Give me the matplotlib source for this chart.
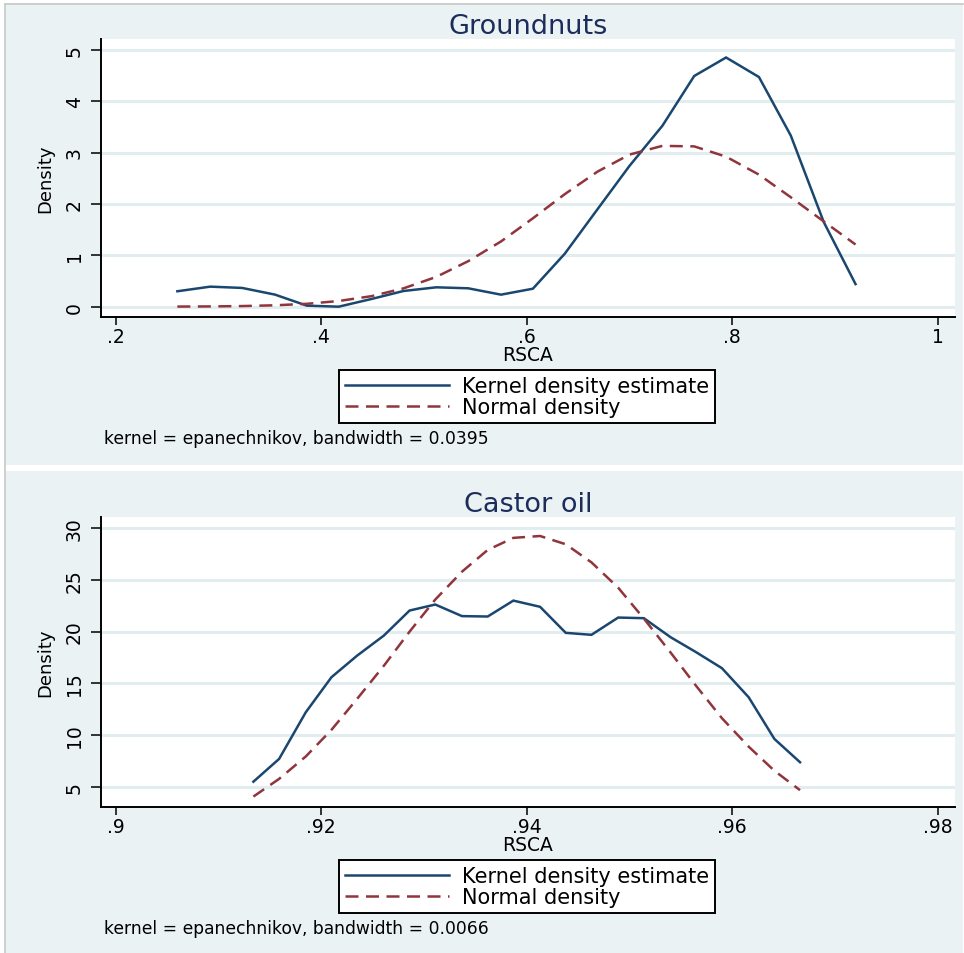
import matplotlib
matplotlib.use("Agg")
import matplotlib.pyplot as plt
from matplotlib.lines import Line2D
from matplotlib.patches import Rectangle

# kernel density vs normal density of RSCA, two crops
gn_x = [0.260, 0.292, 0.323, 0.355, 0.386, 0.417, 0.449, 0.480, 0.512, 0.543, 0.575,
        0.606, 0.637, 0.669, 0.700, 0.732, 0.763, 0.794, 0.826, 0.857, 0.889, 0.920]
gn_kde = [0.30, 0.39, 0.365, 0.235, 0.02, 0.0, 0.15, 0.305, 0.377, 0.358, 0.234,
          0.35, 1.03, 1.90, 2.74, 3.52, 4.49, 4.85, 4.47, 3.33, 1.65, 0.44]
gn_norm = [0.002, 0.005, 0.012, 0.027, 0.056, 0.11, 0.205, 0.356, 0.58, 0.885, 1.27,
           1.72, 2.19, 2.63, 2.96, 3.13, 3.12, 2.92, 2.57, 2.13, 1.66, 1.21]
gn_xticks = [0.2, 0.4, 0.6, 0.8, 1.0]
gn_xlabels = [".2", ".4", ".6", ".8", "1"]
gn_yticks = [0, 1, 2, 3, 4, 5]

co_x = [0.9134, 0.9159, 0.9185, 0.9210, 0.9235, 0.9261, 0.9286, 0.9311, 0.9337, 0.9362, 0.9387,
        0.9413, 0.9438, 0.9463, 0.9489, 0.9514, 0.9540, 0.9565, 0.9590, 0.9616, 0.9641, 0.9666]
co_kde = [5.48, 7.68, 12.2, 15.59, 17.68, 19.62, 22.04, 22.62, 21.5, 21.46, 23.0,
          22.4, 19.88, 19.69, 21.36, 21.3, 19.46, 18.0, 16.46, 13.65, 9.62, 7.36]
co_norm = [4.04, 5.75, 7.92, 10.5, 13.5, 16.7, 20.0, 23.1, 25.8, 27.9, 29.07,
           29.25, 28.45, 26.7, 24.25, 21.26, 17.98, 14.73, 11.62, 8.87, 6.54, 4.66]
co_xticks = [0.90, 0.92, 0.94, 0.96, 0.98]
co_xlabels = [".9", ".92", ".94", ".96", ".98"]
co_yticks = [5, 10, 15, 20, 25, 30]

W, H = 964, 954
BG = "#eaf2f3"
GRID = "#e2edef"
NAVY = "#1a476f"
MAROON = "#90353b"
plt.rcParams["font.family"] = "DejaVu Sans"

fig = plt.figure(figsize=(W / 100, H / 100), dpi=100)
fig.patch.set_facecolor("white")


def fx(px):
    return px / W


def fy(py):
    return 1 - py / H


def panel(top, bottom, ax_top, ax_bot, title, x, kde, norm, xlim, ylim,
          xticks, xlabels, yticks, bw):
    fig.add_artist(Rectangle((fx(5), fy(bottom)), fx(963) - fx(5), fy(top) - fy(bottom),
                             transform=fig.transFigure, facecolor=BG, edgecolor="none",
                             zorder=-5))
    ax = fig.add_axes([fx(100.7), fy(ax_bot), fx(955) - fx(100.7), fy(ax_top) - fy(ax_bot)])
    ax.set_facecolor("white")
    ax.plot(x, kde, color=NAVY, lw=1.8, solid_joinstyle="miter")
    ax.plot(x, norm, color=MAROON, lw=1.8, dashes=(5.2, 3.0))
    ax.set_xlim(*xlim)
    ax.set_ylim(*ylim)
    ax.set_xticks(xticks, xlabels)
    ax.set_yticks(yticks, [str(v) for v in yticks])
    for v in yticks:
        ax.axhline(v, color=GRID, lw=2.2, zorder=0)
    for s in ("top", "right"):
        ax.spines[s].set_visible(False)
    for s in ("left", "bottom"):
        ax.spines[s].set_linewidth(1.4)
    ax.tick_params(axis="y", length=7, width=1.1, labelsize=13.5, pad=5,
                   labelrotation=90)
    for lab in ax.get_yticklabels():
        lab.set_va("center")
    ax.tick_params(axis="x", length=5.5, width=1.1, labelsize=13.5, pad=2)
    ax.set_xlabel("RSCA", fontsize=13.5, labelpad=-1)
    ax.set_ylabel("Density", fontsize=13, labelpad=8)
    ax.set_title(title, fontsize=19.5, color="#1c2d5c", pad=4)
    handles = [Line2D([], [], color=NAVY, lw=1.8),
               Line2D([], [], color=MAROON, lw=1.8, dashes=(5.2, 3.0))]
    leg = fig.legend(handles, ["Kernel density estimate", "Normal density"],
                     loc="center", bbox_to_anchor=(fx(527), fy(ax_bot + 80)),
                     fontsize=15, frameon=True, fancybox=False, edgecolor="black",
                     facecolor="white", framealpha=1, handlelength=5.0,
                     handletextpad=0.6, labelspacing=0.05, borderpad=0.3,
                     borderaxespad=0)
    leg.get_frame().set_linewidth(1.4)
    fig.text(fx(104), fy(ax_bot + 121), f"kernel = epanechnikov, bandwidth = {bw}",
             fontsize=12.3, va="center", ha="left")
    return ax


panel(4, 465.7, 40, 317.7, "Groundnuts", gn_x, gn_kde, gn_norm,
      (0.1854, 1.0168), (-0.195, 5.21), gn_xticks, gn_xlabels, gn_yticks, "0.0395")
panel(471.7, 954, 518.3, 807.7, "Castor oil", co_x, co_kde, co_norm,
      (0.89854, 0.98168), (3.06, 31.06), co_xticks, co_xlabels, co_yticks, "0.0066")

# thin grey frame on the left and top edges
fig.add_artist(Line2D([fx(4.5), fx(4.5)], [0, fy(4.5)], color="#c8c8c8", lw=1.2))
fig.add_artist(Line2D([fx(4.5), fx(963)], [fy(4.5), fy(4.5)], color="#c8c8c8", lw=1.2))

fig.savefig("out.png", dpi=100)
